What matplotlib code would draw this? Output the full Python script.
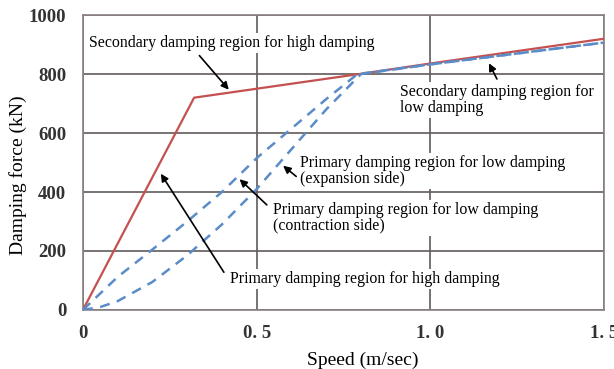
import numpy as np
import matplotlib.pyplot as plt

# speed (m/sec) vs damping force (kN)
high_speed = [0.0, 0.32, 0.8, 1.0, 1.5]
high_force = [0, 720, 801, 836, 920]

expansion_speed = [0.0, 0.1, 0.2, 0.3, 0.4, 0.5, 0.6, 0.7, 0.79, 1.0, 1.5]
expansion_force = [0, 112, 205, 300, 400, 515, 615, 715, 800, 833, 907]

contraction_speed = [0.0, 0.05, 0.1, 0.2, 0.3, 0.4, 0.5, 0.6, 0.7, 0.8, 1.0, 1.5]
contraction_force = [0, 10, 30, 95, 185, 290, 410, 545, 680, 800, 833, 907]

xticks = [0, 0.5, 1.0, 1.5]
xtick_labels = ["0", "0. 5", "1. 0", "1. 5"]
yticks = [0, 200, 400, 600, 800, 1000]

plt.rcParams["font.family"] = ["Liberation Serif", "DejaVu Serif"]

fig = plt.figure(figsize=(6.14, 3.69), dpi=100)
ax = fig.add_axes([0.135, 0.160, 0.849, 0.799])

red = "#c4504f"
blue = "#5b8cc8"
grid_col = "#625a5a"

ax.plot(high_speed, high_force, color=red, lw=1.6, zorder=3)
ax.plot(expansion_speed, expansion_force, color=blue, lw=1.8, ls=(0, (4, 3)), zorder=3)
ax.plot(contraction_speed, contraction_force, color=blue, lw=1.8, ls=(0, (4, 3)), zorder=3)

ax.set_xlim(0, 1.5)
ax.set_ylim(0, 1000)
ax.set_xticks(xticks)
ax.set_xticklabels(xtick_labels)
ax.set_yticks(yticks)
ax.grid(True, color=grid_col, lw=1.2)
ax.set_axisbelow(True)
for s in ax.spines.values():
    s.set_color("#8a8282")
    s.set_linewidth(1.2)
ax.tick_params(axis="x", length=0, pad=11, labelsize=13.5)
ax.tick_params(axis="y", length=0, pad=12, labelsize=13.5)
for lab in ax.get_xticklabels() + ax.get_yticklabels():
    lab.set_fontweight("bold")
    lab.set_color("#333333")

ax.set_xlabel("Speed (m/sec)", fontsize=14, va="center")
ax.set_ylabel("Damping force (kN)", fontsize=14, va="center")
ax.xaxis.set_label_coords(0.536, -0.17)
ax.yaxis.set_label_coords(-0.125, 0.458)

box = dict(facecolor="white", edgecolor="none", pad=1.5)
arrow = dict(arrowstyle="-|>", color="black", lw=1.2, mutation_scale=11)
fs = 11.4

ax.text(0.017, 905, "Secondary damping region for high damping", fontsize=fs,
        va="center", ha="left", bbox=box, zorder=5)
ax.annotate("", xy=(0.425, 740), xytext=(0.33, 870), arrowprops=arrow, zorder=5)

ax.text(0.913, 712, "Secondary damping region for\nlow damping", fontsize=fs,
        va="center", ha="left", linespacing=0.95, bbox=box, zorder=5)
ax.annotate("", xy=(1.165, 845), xytext=(1.195, 775), arrowprops=arrow, zorder=5)

ax.text(0.625, 471, "Primary damping region for low damping\n(expansion side)",
        fontsize=fs, va="center", ha="left", linespacing=0.95, bbox=box, zorder=5)
ax.annotate("", xy=(0.57, 495), xytext=(0.62, 447), arrowprops=arrow, zorder=5)

ax.text(0.547, 312, "Primary damping region for low damping\n(contraction side)",
        fontsize=fs, va="center", ha="left", linespacing=0.95, bbox=box, zorder=5)
ax.annotate("", xy=(0.445, 450), xytext=(0.535, 350), arrowprops=arrow, zorder=5)

ax.text(0.423, 105, "Primary damping region for high damping",
        fontsize=fs, va="center", ha="left", bbox=box, zorder=5)
ax.annotate("", xy=(0.22, 470), xytext=(0.41, 120), arrowprops=arrow, zorder=5)

fig.savefig("out.png", dpi=100)
